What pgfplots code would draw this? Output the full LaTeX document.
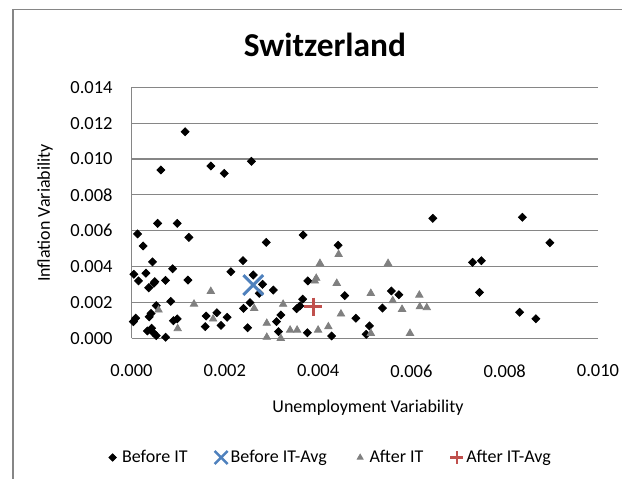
\documentclass[border=0pt]{standalone}
\usepackage{fontspec}
\setmainfont{Carlito}
\usepackage{pgfplots}
\pgfplotsset{compat=1.18}
\definecolor{gridgray}{RGB}{134,134,134}
\definecolor{xblue}{RGB}{79,129,189}
\definecolor{pred}{RGB}{192,80,77}
\definecolor{trigray}{RGB}{128,128,128}
\begin{document}
\begin{tikzpicture}
\useasboundingbox (0pt,0pt) rectangle (311pt,239pt);
\draw[gridgray, line width=0.6pt] (6.5pt,-5pt) -- (6.5pt,234.4pt) -- (330pt,234.4pt);
\node[anchor=base, font=\fontsize{16.7}{20}\selectfont\bfseries] at (162.5pt,211pt) {Switzerland};
\node[rotate=90, font=\fontsize{9}{11}\selectfont] at (22.5pt,132.5pt) {Inflation Variability};
\node[anchor=base, font=\fontsize{9}{11}\selectfont] at (184pt,33pt) {Unemployment Variability};
\begin{axis}[
  at={(65.75pt,69.85pt)}, anchor=south west,
  scale only axis, width=233.25pt, height=125.5pt,
  xmin=0, xmax=0.010, ymin=0, ymax=0.014,
  xtick={0,0.002,0.004,0.006,0.008,0.010},
  ytick={0,0.002,0.004,0.006,0.008,0.010,0.012,0.014},
  scaled x ticks=false, scaled y ticks=false,
  axis x line=bottom, axis y line=left,
  axis line style={gridgray, line width=0.6pt, -},
  major tick length=0pt,
  ymajorgrids, grid style={gridgray, line width=0.6pt},
  tick label style={font=\fontsize{9.25}{11}\selectfont},
  /pgf/number format/assume math mode=true,
  /pgf/number format/fixed,
  /pgf/number format/fixed zerofill,
  /pgf/number format/precision=3,
  xticklabel style={anchor=north, inner sep=0pt, yshift=-13pt},
  yticklabel style={anchor=east, inner sep=0pt, xshift=-9.25pt},
  clip=false,
  legend columns=4,
  legend style={draw=none, fill=none, at={(0.4255,-0.4749)}, anchor=center,
    font=\fontsize{9}{11}\selectfont,
    nodes={inner sep=1.5pt},
    /tikz/every even column/.append style={column sep=12pt}},
  legend image code/.code={\path (-3pt,0pt) (3pt,0pt); \draw[#1] plot coordinates {(0pt,0pt)};},
]
\addlegendimage{only marks, mark=square*, mark size=1.3pt, mark options={rotate=45, fill=black, draw=black}}
\addlegendentry{Before IT}
\addlegendimage{only marks, mark=x, mark size=4.6pt, mark options={xblue, line width=1.3pt}}
\addlegendentry{Before IT-Avg}
\addlegendimage{only marks, mark=triangle*, mark size=1.7pt, mark options={fill=trigray, draw=trigray}}
\addlegendentry{After IT}
\addlegendimage{only marks, mark=+, mark size=3.2pt, mark options={pred, line width=1.3pt}}
\addlegendentry{After IT-Avg}

\addplot[forget plot, only marks, mark=square*, mark size=1.4pt, mark options={rotate=45, fill=black, draw=black}] table {
x y
0.00063 0.00939
0.00115 0.01152
0.00170 0.00961
0.00199 0.00920
0.00257 0.00987
0.00056 0.00641
0.00098 0.00641
0.00646 0.00669
0.00838 0.00675
0.00897 0.00533
0.00731 0.00424
0.00750 0.00433
0.00746 0.00256
0.00832 0.00145
0.00867 0.00109
0.00013 0.00582
0.00025 0.00515
0.00123 0.00563
0.00289 0.00535
0.00045 0.00426
0.00239 0.00433
0.00005 0.00357
0.00031 0.00363
0.00015 0.00320
0.00088 0.00388
0.00213 0.00371
0.00050 0.00316
0.00048 0.00307
0.00037 0.00282
0.00073 0.00323
0.00121 0.00325
0.00261 0.00353
0.00281 0.00301
0.00274 0.00251
0.00254 0.00199
0.00240 0.00167
0.00053 0.00182
0.00084 0.00206
0.00042 0.00139
0.00038 0.00120
0.00009 0.00112
0.00004 0.00093
0.00090 0.00098
0.00098 0.00108
0.00160 0.00124
0.00158 0.00065
0.00183 0.00143
0.00192 0.00072
0.00205 0.00117
0.00249 0.00059
0.00034 0.00041
0.00043 0.00056
0.00047 0.00031
0.00053 0.00015
0.00073 0.00006
0.00368 0.00576
0.00443 0.00519
0.00304 0.00269
0.00378 0.00320
0.00367 0.00218
0.00361 0.00180
0.00354 0.00165
0.00320 0.00130
0.00311 0.00093
0.00315 0.00037
0.00377 0.00031
0.00429 0.00013
0.00457 0.00238
0.00481 0.00112
0.00510 0.00069
0.00503 0.00022
0.00538 0.00169
0.00557 0.00264
0.00573 0.00243
};

\addplot[forget plot, only marks, mark=triangle*, mark size=2.1pt, mark options={fill=trigray, draw=trigray}] table {
x y
0.00058 0.00158
0.00099 0.00054
0.00134 0.00191
0.00170 0.00262
0.00175 0.00108
0.00263 0.00167
0.00290 0.00084
0.00290 0.00006
0.00444 0.00468
0.00404 0.00418
0.00550 0.00418
0.00396 0.00335
0.00393 0.00320
0.00440 0.00307
0.00513 0.00251
0.00560 0.00210
0.00580 0.00162
0.00617 0.00241
0.00618 0.00176
0.00633 0.00171
0.00325 0.00190
0.00320 0.00000
0.00340 0.00046
0.00355 0.00046
0.00400 0.00046
0.00422 0.00065
0.00449 0.00136
0.00513 0.00028
0.00597 0.00028
};

\addplot[forget plot, only marks, mark=x, mark size=7pt, mark options={xblue, line width=1.5pt}] coordinates {(0.00261,0.00297)};
\addplot[forget plot, only marks, mark=+, mark size=4.5pt, mark options={pred, line width=1.5pt}] coordinates {(0.0039,0.00176)};
\end{axis}
\end{tikzpicture}
\end{document}
